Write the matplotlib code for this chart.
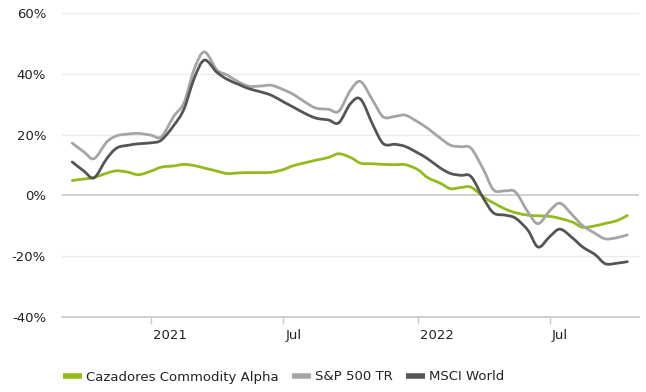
import matplotlib
matplotlib.use("Agg")
import matplotlib.pyplot as plt
import matplotlib.dates as mdates
import matplotlib.transforms as mtransforms
from matplotlib.lines import Line2D
from matplotlib.path import Path
from matplotlib.patches import PathPatch
import numpy as np
import pandas as pd

# Semi-monthly observation dates
dates = pd.date_range("2020-09-15", "2022-10-15", freq="SMS")

# Cumulative returns (%)
commodity_alpha = [4.9, 5.4, 5.9, 7.3, 8.1, 7.6, 6.8, 8.0, 9.3, 9.7,
                   10.2, 9.8, 9.0, 8.0, 7.2, 7.4, 7.5, 7.5, 7.6, 8.5,
                   9.8, 10.8, 11.6, 12.5, 13.7, 12.5, 10.6, 10.4, 10.2, 10.1,
                   10.1, 8.5, 5.8, 4.0, 2.2, 2.6, 2.7, -0.5, -2.5, -4.5,
                   -5.7, -6.5, -6.7, -6.9, -7.6, -8.8, -10.5, -10.0, -9.2, -8.3,
                   -6.6]
sp500_tr = [17.2, 14.3, 12.1, 17.5, 19.6, 20.2, 20.4, 19.8, 19.3, 26.0,
            30.5, 41.5, 47.2, 41.3, 39.6, 37.3, 35.9, 36.0, 36.2, 34.8,
            33.2, 30.5, 28.7, 28.3, 27.7, 34.6, 37.4, 31.0, 25.8, 26.0,
            26.4, 24.2, 22.0, 18.8, 16.5, 16.0, 15.5, 8.5, 1.8, 1.5,
            1.1, -5.5, -9.3, -5.0, -2.6, -6.5, -10.0, -12.5, -14.3, -13.9,
            -13.0]
msci_world = [11.0, 8.0, 5.8, 12.0, 15.6, 16.5, 17.0, 17.3, 18.2, 23.0,
              28.4, 38.5, 44.5, 40.5, 38.2, 36.5, 35.1, 34.0, 32.9, 30.8,
              29.0, 26.8, 25.4, 24.8, 23.9, 30.2, 31.6, 23.0, 17.0, 16.8,
              16.1, 14.0, 12.0, 9.0, 7.2, 6.6, 6.2, -1.0, -5.8, -6.5,
              -7.5, -11.5, -17.0, -13.5, -11.1, -14.0, -17.0, -19.5, -22.5, -22.3,
              -21.8]

series_names = ["Cazadores Commodity Alpha", "S&P 500 TR", "MSCI World"]
series_colors = ["#93BA1F", "#A5A5A5", "#555555"]

x_ticks = ["2021-01-01", "2021-07-01", "2022-01-01", "2022-07-01"]
x_tick_labels = ["2021", "Jul", "2022", "Jul"]
y_ticks = [-40, -20, 0, 20, 40, 60]


def spline_path(xs, ys, tension=1 / 6):
    """Smooth Bezier path passing through every (x, y) point."""
    xs = np.asarray(xs, float)
    ys = np.asarray(ys, float)
    px = np.concatenate([[xs[0]], xs, [xs[-1]]])
    py = np.concatenate([[ys[0]], ys, [ys[-1]]])
    verts = [(xs[0], ys[0])]
    codes = [Path.MOVETO]
    for i in range(1, len(xs)):
        a, b = i, i + 1
        c1 = (px[a] + (px[b] - px[a - 1]) * tension,
              py[a] + (py[b] - py[a - 1]) * tension)
        c2 = (px[b] - (px[b + 1] - px[a]) * tension,
              py[b] - (py[b + 1] - py[a]) * tension)
        verts += [c1, c2, (px[b], py[b])]
        codes += [Path.CURVE4] * 3
    return Path(verts, codes)


plt.rcParams["font.family"] = ["DejaVu Sans"]
FS = 9.5
TEXT = "#222222"

fig = plt.figure(figsize=(6.46, 3.92), dpi=100)
ax = fig.add_axes([62 / 646, 1 - 317 / 392, 577 / 646, 304 / 392])

xnum = mdates.date2num(dates)
for vals, name, color in zip([commodity_alpha, sp500_tr, msci_world],
                             series_names, series_colors):
    patch = PathPatch(spline_path(xnum, vals), facecolor="none",
                      edgecolor=color, lw=2.0, joinstyle="round",
                      capstyle="round", zorder=3)
    ax.add_patch(patch)

ax.xaxis_date()
ax.set_ylim(-40, 60)
ax.set_xlim(pd.Timestamp("2020-09-01"), pd.Timestamp("2022-10-31"))

ax.set_yticks(y_ticks)
ax.set_yticklabels([f"{v}%" for v in y_ticks])
ax.set_xticks(pd.to_datetime(x_ticks))
ax.set_xticklabels(x_tick_labels)

for v in y_ticks:
    if v == 0:
        ax.axhline(v, color="#C8C8C8", lw=1.2, zorder=1)
    elif v == -40:
        continue
    else:
        ax.axhline(v, color="#EBEBEB", lw=1.0, zorder=1)

for side in ["top", "right", "left"]:
    ax.spines[side].set_visible(False)
ax.spines["bottom"].set_color("#C8C8C8")
ax.spines["bottom"].set_linewidth(1.2)

ax.tick_params(axis="y", length=0, pad=11.5, labelsize=FS, labelcolor=TEXT)
ax.tick_params(axis="x", length=5, width=1, color="#C8C8C8", pad=3.5,
               labelsize=FS, labelcolor=TEXT)

# x labels sit just to the right of their tick marks
shift = mtransforms.ScaledTranslation(2 / 100, 0, fig.dpi_scale_trans)
for lbl in ax.get_xticklabels():
    lbl.set_horizontalalignment("left")
    lbl.set_transform(lbl.get_transform() + shift)

handles = [Line2D([0], [0], color=c, lw=4.0, solid_capstyle="butt")
           for c in series_colors]
fig.legend(handles, series_names, loc="center left",
           bbox_to_anchor=(63 / 646, 1 - 377 / 392), ncol=3, frameon=False,
           fontsize=FS, handlelength=1.45, handletextpad=0.3,
           columnspacing=1.0, borderpad=0, borderaxespad=0,
           labelcolor=TEXT)

fig.savefig("out.png", dpi=100)
